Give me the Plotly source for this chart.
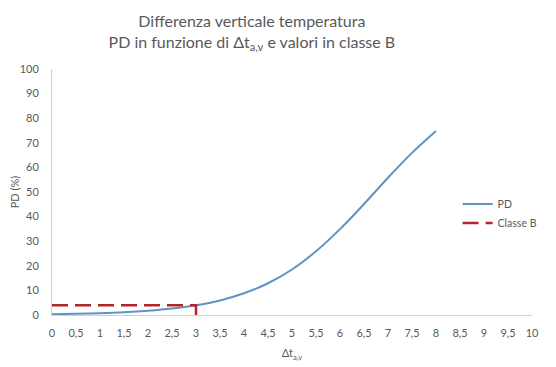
import plotly.graph_objects as go

# Data
dt_values = [0, 0.5, 1, 1.5, 2, 2.5, 3, 3.5, 4, 4.5, 5, 5.5, 6, 6.5, 7, 7.5, 8]
pd_values = [0.31, 0.48, 0.74, 1.12, 1.72, 2.61, 3.95, 5.93, 8.82, 12.9, 18.5,
             25.9, 34.9, 45.1, 55.8, 65.9, 74.8]
classe_b_x = [0, 3, 3]
classe_b_y = [3.95, 3.95, 0]
x_tick_vals = [0, 0.5, 1, 1.5, 2, 2.5, 3, 3.5, 4, 4.5, 5, 5.5, 6, 6.5, 7, 7.5, 8,
               8.5, 9, 9.5, 10]
x_tick_text = ["0", "0,5", "1", "1,5", "2", "2,5", "3", "3,5", "4", "4,5", "5",
               "5,5", "6", "6,5", "7", "7,5", "8", "8,5", "9", "9,5", "10"]
y_tick_vals = [0, 10, 20, 30, 40, 50, 60, 70, 80, 90, 100]

FONT = "Lato, 'Open Sans', sans-serif"
GREY = "#595959"

fig = go.Figure()
fig.add_trace(go.Scatter(
    x=dt_values, y=pd_values, mode="lines", name="PD",
    line=dict(color="#5f93c4", width=2, shape="spline"),
))
fig.add_trace(go.Scatter(
    x=classe_b_x, y=classe_b_y, mode="lines", name="Classe B",
    line=dict(color="#b0262a", width=2.5, dash="16px,7px"),
))

fig.update_layout(
    width=548, height=359,
    margin=dict(l=44, r=24, t=61, b=52, autoexpand=False),
    paper_bgcolor="white", plot_bgcolor="white",
    font=dict(family=FONT, color=GREY, size=11),
    title=dict(
        text="Differenza verticale temperatura<br>PD in funzione di Δt<sub>a,v</sub> e valori in classe B",
        x=0.445, xanchor="center", yref="container", y=0.947, yanchor="middle",
        font=dict(family=FONT, size=16, color=GREY),
    ),
    legend=dict(
        x=0.845, y=0.51, xanchor="left", yanchor="top",
        bgcolor="rgba(0,0,0,0)", font=dict(size=10.5, color=GREY),
        itemwidth=30, tracegroupgap=6,
    ),
    showlegend=True,
)
fig.update_xaxes(
    range=[0, 10], tickvals=x_tick_vals, ticktext=x_tick_text,
    showgrid=False, zeroline=False, showline=True, linecolor="#d0d0d0", linewidth=1,
    ticks="", tickfont=dict(size=11, color=GREY), automargin=False, ticklabelstandoff=8,
    title=dict(text="Δt<sub>a,v</sub>", font=dict(size=11, color=GREY), standoff=11),
)
fig.update_yaxes(
    range=[0, 100], tickvals=y_tick_vals,
    showgrid=False, zeroline=False, showline=True, linecolor="#d0d0d0", linewidth=1,
    ticks="", tickfont=dict(size=11, color=GREY), ticklabelstandoff=10, automargin=False,
    title=dict(text="PD (%)", font=dict(size=11, color=GREY), standoff=8),
)

fig.write_html("out.html")
